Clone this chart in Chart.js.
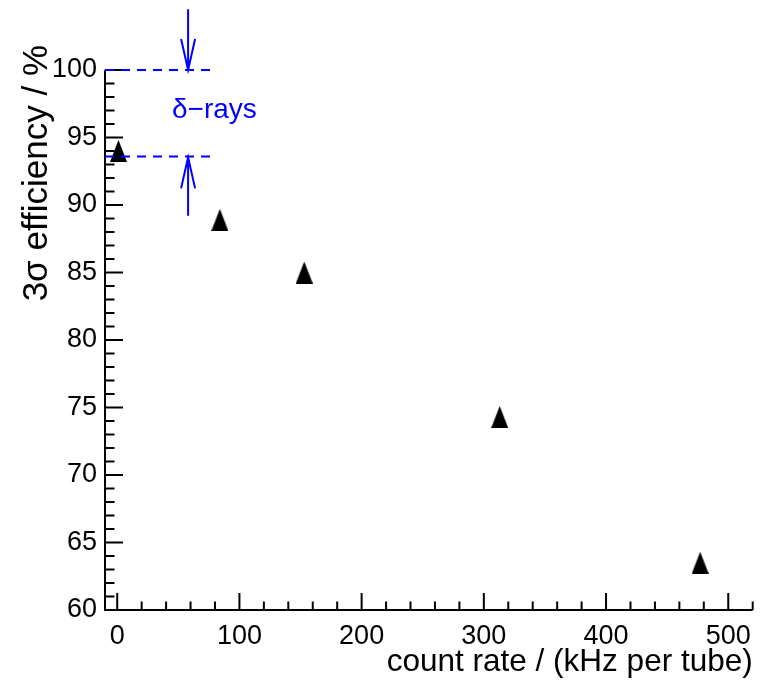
<!DOCTYPE html>
<html>
<head>
<meta charset="utf-8">
<script src="https://cdn.jsdelivr.net/npm/chart.js@4"></script>
<style>
  body { margin: 0; background: #fff; }
  #wrap { width: 761px; height: 683px; }
</style>
</head>
<body>
<div id="wrap"><canvas id="eff-chart" width="761" height="683"></canvas></div>
<script>
// Data
const countRates = [1, 84, 153, 313, 477];          // kHz per tube
const efficiencies = [94.0, 88.9, 85.0, 74.3, 63.5]; // 3 sigma efficiency, %
const xTickValues = [0, 100, 200, 300, 400, 500];
const yTickValues = [60, 65, 70, 75, 80, 85, 90, 95, 100];
const deltaBand = [93.6, 100];   // lower and upper dashed lines
const deltaLabel = 'δ−rays';
const xTitle = 'count rate / (kHz per tube)';
const yTitle = '3σ efficiency / %';

const blue = '#0000ff';
const fontFamily = '"Liberation Sans", Arial, Helvetica, sans-serif';

// Triangle marker as a small canvas
const marker = document.createElement('canvas');
marker.width = 17;
marker.height = 22;
{
  const m = marker.getContext('2d');
  m.fillStyle = '#000';
  m.beginPath();
  m.moveTo(8.5, 0);
  m.lineTo(17, 22);
  m.lineTo(0, 22);
  m.closePath();
  m.fill();
}

// Draws ROOT-like axes with inward ticks, titles and the delta-ray annotation
const frameAndNotes = {
  id: 'frameAndNotes',
  afterDraw(chart) {
    const ctx = chart.ctx;
    const xs = chart.scales.x;
    const ys = chart.scales.y;
    const { left, right, top, bottom } = chart.chartArea;
    ctx.save();

    // axis lines
    ctx.strokeStyle = '#000';
    ctx.lineWidth = 2;
    ctx.beginPath();
    ctx.moveTo(left, top);
    ctx.lineTo(left, bottom);
    ctx.lineTo(right, bottom);
    ctx.stroke();

    // x ticks (major every 100, minor every 20)
    ctx.beginPath();
    for (let v = 0; v <= xs.max; v += 20) {
      const px = xs.getPixelForValue(v);
      const len = v % 100 === 0 ? 17 : 8.5;
      ctx.moveTo(px, bottom);
      ctx.lineTo(px, bottom - len);
    }
    // y ticks (major every 5, minor every 1)
    for (let v = ys.min; v <= ys.max; v += 1) {
      const py = ys.getPixelForValue(v);
      const len = v % 5 === 0 ? 18 : 9.5;
      ctx.moveTo(left, py);
      ctx.lineTo(left + len, py);
    }
    ctx.stroke();

    // axis titles
    ctx.fillStyle = '#000';
    ctx.font = '31.5px ' + fontFamily;
    ctx.textAlign = 'right';
    ctx.textBaseline = 'alphabetic';
    ctx.fillText(xTitle, right, 671);
    ctx.save();
    ctx.font = '35px ' + fontFamily;
    ctx.translate(47, 45);
    ctx.rotate(-Math.PI / 2);
    ctx.fillText(yTitle, 0, 0);
    ctx.restore();

    // delta-ray band
    const arrowX = xs.getPixelForValue(58);
    const dashEnd = xs.getPixelForValue(80);
    const yLow = ys.getPixelForValue(deltaBand[0]);
    const yHigh = ys.getPixelForValue(deltaBand[1]);
    ctx.strokeStyle = blue;
    ctx.lineWidth = 2;
    ctx.setLineDash([9, 7]);
    ctx.beginPath();
    ctx.moveTo(left, yHigh);
    ctx.lineTo(dashEnd, yHigh);
    ctx.moveTo(left, yLow);
    ctx.lineTo(dashEnd, yLow);
    ctx.stroke();
    ctx.setLineDash([]);

    const arrow = (x, y0, y1) => {
      const dir = Math.sign(y1 - y0);
      ctx.beginPath();
      ctx.moveTo(x, y0);
      ctx.lineTo(x, y1);
      ctx.moveTo(x - 7, y1 - dir * 31);
      ctx.lineTo(x, y1);
      ctx.lineTo(x + 7, y1 - dir * 31);
      ctx.stroke();
    };
    arrow(arrowX, ys.getPixelForValue(104.5), yHigh);
    arrow(arrowX, ys.getPixelForValue(89.2), yLow + 1);

    ctx.fillStyle = blue;
    ctx.font = '28px ' + fontFamily;
    ctx.textAlign = 'left';
    ctx.fillText(deltaLabel, 172, 118);

    ctx.restore();
  }
};

const chart = new Chart(document.getElementById('eff-chart'), {
  type: 'scatter',
  data: {
    datasets: [{
      label: 'efficiency',
      data: countRates.map((x, i) => ({ x, y: efficiencies[i] })),
      pointStyle: marker,
      showLine: false
    }]
  },
  options: {
    responsive: false,
    animation: false,
    devicePixelRatio: 1,
    layout: { padding: { top: 70, right: 6, left: 0, bottom: 0 } },
    plugins: {
      legend: { display: false },
      tooltip: { enabled: false }
    },
    scales: {
      x: {
        type: 'linear',
        min: -10,
        max: 520,
        afterBuildTicks: (s) => { s.ticks = xTickValues.map((v) => ({ value: v })); },
        afterFit: (s) => { s.height = 73; },
        grid: { display: false, drawTicks: false },
        border: { display: false },
        ticks: { color: '#000', padding: 10, maxRotation: 0, font: { size: 27, family: fontFamily } }
      },
      y: {
        type: 'linear',
        min: 60,
        max: 100,
        afterBuildTicks: (s) => { s.ticks = yTickValues.map((v) => ({ value: v })); },
        afterFit: (s) => { s.width = 105; },
        grid: { display: false, drawTicks: false },
        border: { display: false },
        ticks: { color: '#000', padding: 8, font: { size: 27, family: fontFamily } }
      }
    }
  },
  plugins: [frameAndNotes]
});
</script>
</body>
</html>
